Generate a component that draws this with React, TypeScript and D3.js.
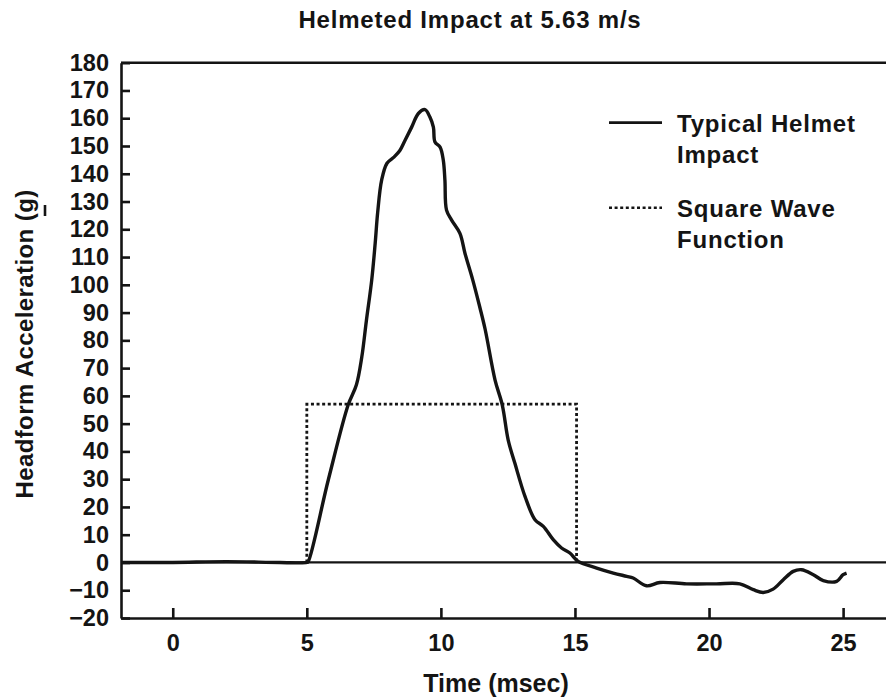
import {useEffect, useRef} from "react";
import * as d3 from "d3";

// time (msec) and headform acceleration (g)
const impactTime = [-1.9, 0, 2, 4, 5.0, 5.05, 5.8, 6.54, 6.85, 7.05, 7.22, 7.42, 7.55, 7.64, 7.79, 7.99, 8.25, 8.47, 8.66, 8.91, 9.16, 9.41, 9.59, 9.72, 9.78, 9.97, 10.09, 10.15, 10.21, 10.4, 10.71, 10.9, 11.19, 11.45, 11.65, 12.02, 12.29, 12.51, 12.76, 13.14, 13.51, 13.82, 14.19, 14.5, 14.81, 15.12, 15.81, 16.43, 16.93, 17.17, 17.67, 18.17, 19.16, 20.28, 21.15, 21.65, 22.02, 22.39, 22.77, 23.14, 23.45, 23.89, 24.26, 24.76, 25.0, 25.13];
const impactAccel = [0, 0, 0.3, 0, 0, 0.3, 29.7, 56.7, 64, 74, 87, 101.7, 115, 125.8, 137.7, 143.8, 146, 148.4, 152, 156.8, 161.7, 163.1, 160.4, 156.8, 151.4, 149.6, 144.9, 137.7, 126.9, 123.3, 118.5, 111.3, 101.7, 92, 84, 65.7, 56.7, 44.1, 35.7, 23.7, 15.4, 13, 8.2, 5.2, 3.4, 0.4, -2, -3.8, -5, -5.6, -8.4, -7.2, -7.7, -7.7, -7.7, -9.8, -10.8, -9.6, -6.2, -3.2, -2.6, -4.4, -6.5, -6.8, -4.4, -3.8];

const squareTime = [5, 5, 15.06, 15.06];
const squareAccel = [0, 57, 57, 0];

const xTicks = [0, 5, 10, 15, 20, 25];
const yTicks = [-20, -10, 0, 10, 20, 30, 40, 50, 60, 70, 80, 90, 100, 110, 120, 130, 140, 150, 160, 170, 180];
const xDomain = [-1.93, 26.6];
const yDomain = [-20, 180];

const legendNames = [["Typical Helmet", "Impact"], ["Square Wave", "Function"]];

const FONT = "'Liberation Sans', Arial, Helvetica, sans-serif";
const INK = "#141414";

export default function App() {
    const svgRef = useRef<SVGSVGElement | null>(null);

    useEffect(() => {
        if (!svgRef.current) return;
        const svg = d3.select(svgRef.current);
        svg.selectAll("*").remove();

        const x = d3.scaleLinear().domain(xDomain).range([121, 886]);
        const y = d3.scaleLinear().domain(yDomain).range([618, 62.7]);

        // title
        svg.append("text")
            .text("Helmeted Impact at 5.63 m/s")
            .attr("x", 470).attr("y", 28)
            .attr("text-anchor", "middle")
            .style("font-size", "24px").style("font-weight", "bold")
            .style("letter-spacing", "0.8px");

        // axes (ticks point inward)
        const gy = svg.append("g")
            .attr("transform", `translate(${x(xDomain[0])},0)`)
            .call(d3.axisLeft(y).tickValues(yTicks).tickSize(-9).tickSizeOuter(0).tickPadding(12)
                .tickFormat(d => d3.format("")(d as number).replace("-", "\u2212")));
        const gx = svg.append("g")
            .attr("transform", `translate(0,${y(yDomain[0])})`)
            .call(d3.axisBottom(x).tickValues(xTicks).tickSize(-10).tickSizeOuter(0).tickPadding(16));
        [gx, gy].forEach(g => {
            g.selectAll("path, line").attr("stroke", INK).attr("stroke-width", 2.6);
            g.selectAll("text").attr("fill", INK)
                .style("font-size", "23.5px").style("font-weight", "bold").style("font-family", FONT);
        });

        // top frame line
        svg.append("line")
            .attr("x1", x(xDomain[0])).attr("x2", x(xDomain[1]))
            .attr("y1", y(yDomain[1])).attr("y2", y(yDomain[1]))
            .attr("stroke", INK).attr("stroke-width", 2.6);

        // zero line
        svg.append("line")
            .attr("x1", x(xDomain[0])).attr("x2", x(xDomain[1]))
            .attr("y1", y(0)).attr("y2", y(0))
            .attr("stroke", INK).attr("stroke-width", 2.2);

        // square wave
        const sq = d3.line<number>().x(i => x(squareTime[i])).y(i => y(squareAccel[i]));
        svg.append("path")
            .attr("d", sq(d3.range(squareTime.length)))
            .attr("fill", "none").attr("stroke", INK)
            .attr("stroke-width", 2.8).attr("stroke-dasharray", "3,2.6");

        // impact curve
        const impact = d3.line<number>()
            .x(i => x(impactTime[i])).y(i => y(impactAccel[i]))
            .curve(d3.curveCatmullRom.alpha(0.5));
        svg.append("path")
            .attr("d", impact(d3.range(impactTime.length)))
            .attr("fill", "none").attr("stroke", INK)
            .attr("stroke-width", 3.4).attr("stroke-linejoin", "round");

        // legend
        legendNames.forEach((lines, i) => {
            const ly = 122.7 + i * 85;
            svg.append("line")
                .attr("x1", 609).attr("x2", 662).attr("y1", ly).attr("y2", ly)
                .attr("stroke", INK).attr("stroke-width", i === 0 ? 2.8 : 2.6)
                .attr("stroke-dasharray", i === 0 ? null : "3,2.6");
            lines.forEach((t, j) => {
                svg.append("text").text(t)
                    .attr("x", 677).attr("y", ly + 9 + j * 31.5)
                    .style("font-size", "24px").style("font-weight", "bold")
                    .style("letter-spacing", "0.8px");
            });
        });

        // axis titles
        svg.append("text")
            .text("Time (msec)")
            .attr("x", 496).attr("y", 692)
            .attr("text-anchor", "middle")
            .style("font-size", "25px").style("font-weight", "bold");

        svg.append("text")
            .text("Headform Acceleration (g)")
            .attr("transform", "translate(33,344) rotate(-90)")
            .attr("text-anchor", "middle")
            .style("font-size", "24px").style("font-weight", "bold")
            .style("letter-spacing", "0.4px");
        // vector bar under g
        svg.append("line")
            .attr("x1", 45).attr("x2", 45).attr("y1", 205).attr("y2", 216)
            .attr("stroke", INK).attr("stroke-width", 2.6);
    }, []);

    return (
        <svg ref={svgRef} width={886} height={698}
             style={{position: "absolute", left: 0, top: 0, background: "#fff", fontFamily: FONT, fill: INK}}/>
    );
}
